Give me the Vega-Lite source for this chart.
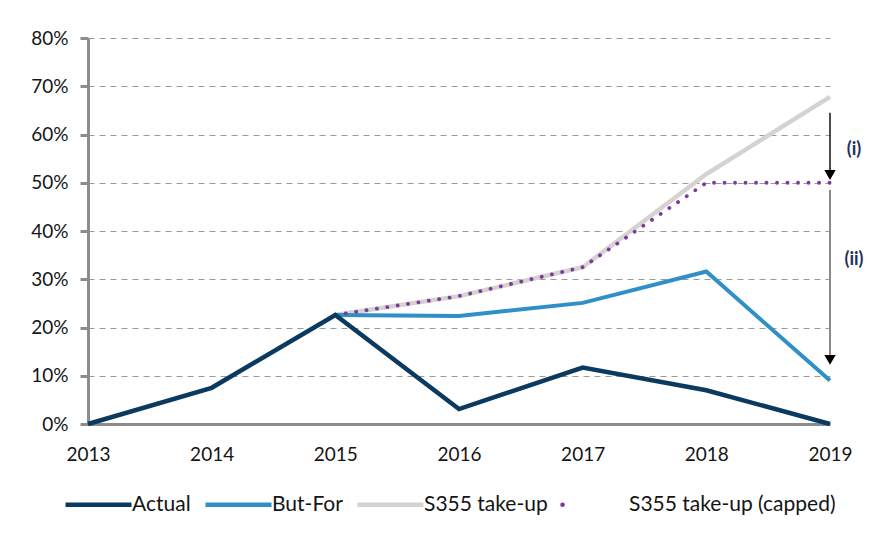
{
  "$schema": "https://vega.github.io/schema/vega-lite/v6.json",
  "width": 742,
  "height": 386,
  "autosize": {"type": "none"},
  "padding": {"left": 88, "top": 38, "right": 40, "bottom": 110},
  "background": "white",
  "config": {
    "font": "Lato",
    "view": {"stroke": null},
    "axis": {"labelFont": "Lato", "labelFontSize": 19, "labelColor": "#151515", "title": null}
  },
  "datasets": {
    "series": [
      {"year": 2013, "series": "Actual", "value": 0},
      {"year": 2014, "series": "Actual", "value": 0.075},
      {"year": 2015, "series": "Actual", "value": 0.226},
      {"year": 2016, "series": "Actual", "value": 0.031},
      {"year": 2017, "series": "Actual", "value": 0.117},
      {"year": 2018, "series": "Actual", "value": 0.07},
      {"year": 2019, "series": "Actual", "value": 0},
      {"year": 2015, "series": "But-For", "value": 0.226},
      {"year": 2016, "series": "But-For", "value": 0.224},
      {"year": 2017, "series": "But-For", "value": 0.251},
      {"year": 2018, "series": "But-For", "value": 0.316},
      {"year": 2019, "series": "But-For", "value": 0.09},
      {"year": 2015, "series": "S355 take-up", "value": 0.226},
      {"year": 2016, "series": "S355 take-up", "value": 0.265},
      {"year": 2017, "series": "S355 take-up", "value": 0.325},
      {"year": 2018, "series": "S355 take-up", "value": 0.518},
      {"year": 2019, "series": "S355 take-up", "value": 0.678},
      {"year": 2015, "series": "S355 take-up (capped)", "value": 0.226},
      {"year": 2016, "series": "S355 take-up (capped)", "value": 0.265},
      {"year": 2017, "series": "S355 take-up (capped)", "value": 0.325},
      {"year": 2018, "series": "S355 take-up (capped)", "value": 0.5},
      {"year": 2019, "series": "S355 take-up (capped)", "value": 0.5}
    ],
    "arrows": [
      {"id": "i", "year": 2019, "start": 0.645, "end": 0.52, "head": 0.516, "labelY": 0.568, "label": "(i)"},
      {"id": "ii", "year": 2019, "start": 0.485, "end": 0.14, "head": 0.133, "labelY": 0.34, "label": "(ii)"}
    ]
  },
  "layer": [
    {
      "data": {"name": "series"},
      "transform": [{"filter": "datum.series === 'S355 take-up'"}],
      "mark": {"type": "line", "strokeWidth": 4.5},
      "encoding": {
        "x": {
          "field": "year", "type": "ordinal",
          "scale": {"type": "point", "padding": 0},
          "axis": {
            "labelAngle": 0, "ticks": false, "tickSize": 0, "labelPadding": 21,
            "domainColor": "#8c8c8c", "domainWidth": 3, "grid": false
          }
        },
        "y": {
          "field": "value", "type": "quantitative",
          "scale": {"domain": [0, 0.8], "nice": false},
          "axis": {
            "values": [0, 0.1, 0.2, 0.3, 0.4, 0.5, 0.6, 0.7, 0.8],
            "format": ".0%", "tickSize": 8, "tickWidth": 3, "tickColor": "#8c8c8c",
            "domainColor": "#8c8c8c", "domainWidth": 3, "labelPadding": 12,
            "grid": true, "gridColor": "#9a9a9a", "gridDash": [6, 5], "gridWidth": 1.2
          }
        },
        "color": {
          "field": "series", "type": "nominal",
          "scale": {
            "domain": ["Actual", "But-For", "S355 take-up", "S355 take-up (capped)"],
            "range": ["#0b3a60", "#2f8fc8", "#d5d2cf", "#7d3a9e"]
          },
          "legend": {
            "orient": "none", "legendX": -25, "legendY": 431, "direction": "horizontal",
            "title": null, "padding": 0, "symbolType": "stroke", "symbolSize": 4356,
            "symbolStrokeWidth": 4.5, "labelFont": "Lato", "labelFontSize": 21,
            "labelColor": "#151515", "labelOffset": -2, "columnPadding": 5, "labelLimit": 400,
            "encode": {
              "symbols": {
                "update": {
                  "strokeDash": {"signal": "datum.value === 'S355 take-up (capped)' ? [0.1, 200] : [1, 0]"},
                  "strokeCap": {"signal": "datum.value === 'S355 take-up (capped)' ? 'round' : 'butt'"}
                }
              }
            }
          }
        }
      }
    },
    {
      "data": {"name": "series"},
      "transform": [{"filter": "datum.series === 'But-For'"}],
      "mark": {"type": "line", "strokeWidth": 4},
      "encoding": {
        "x": {"field": "year", "type": "ordinal"},
        "y": {"field": "value", "type": "quantitative"},
        "color": {"field": "series", "type": "nominal"}
      }
    },
    {
      "data": {"name": "series"},
      "transform": [{"filter": "datum.series === 'S355 take-up (capped)'"}],
      "mark": {"type": "line", "strokeWidth": 3.8, "strokeDash": [0.1, 10.4], "strokeCap": "round"},
      "encoding": {
        "x": {"field": "year", "type": "ordinal"},
        "y": {"field": "value", "type": "quantitative"},
        "color": {"field": "series", "type": "nominal"}
      }
    },
    {
      "data": {"name": "series"},
      "transform": [{"filter": "datum.series === 'Actual'"}],
      "mark": {"type": "line", "strokeWidth": 4.5},
      "encoding": {
        "x": {"field": "year", "type": "ordinal"},
        "y": {"field": "value", "type": "quantitative"},
        "color": {"field": "series", "type": "nominal"}
      }
    },
    {
      "data": {"name": "arrows"},
      "transform": [{"filter": "datum.id === 'i'"}],
      "mark": {"type": "rule", "color": "#111111", "strokeWidth": 1.5},
      "encoding": {
        "x": {"field": "year", "type": "ordinal"},
        "y": {"field": "start", "type": "quantitative"},
        "y2": {"field": "end"}
      }
    },
    {
      "data": {"name": "arrows"},
      "transform": [{"filter": "datum.id === 'ii'"}],
      "mark": {"type": "rule", "color": "#8a8a8a", "strokeWidth": 2},
      "encoding": {
        "x": {"field": "year", "type": "ordinal"},
        "y": {"field": "start", "type": "quantitative"},
        "y2": {"field": "end"}
      }
    },
    {
      "data": {"name": "arrows"},
      "mark": {"type": "point", "shape": "triangle-down", "filled": true, "color": "#000000", "size": 130, "opacity": 1},
      "encoding": {
        "x": {"field": "year", "type": "ordinal"},
        "y": {"field": "head", "type": "quantitative"}
      }
    },
    {
      "data": {"name": "arrows"},
      "mark": {"type": "text", "dx": 24, "fontSize": 18, "fontWeight": "bold", "color": "#1f2f5a", "font": "Lato"},
      "encoding": {
        "x": {"field": "year", "type": "ordinal"},
        "y": {"field": "labelY", "type": "quantitative"},
        "text": {"field": "label"}
      }
    }
  ]
}
